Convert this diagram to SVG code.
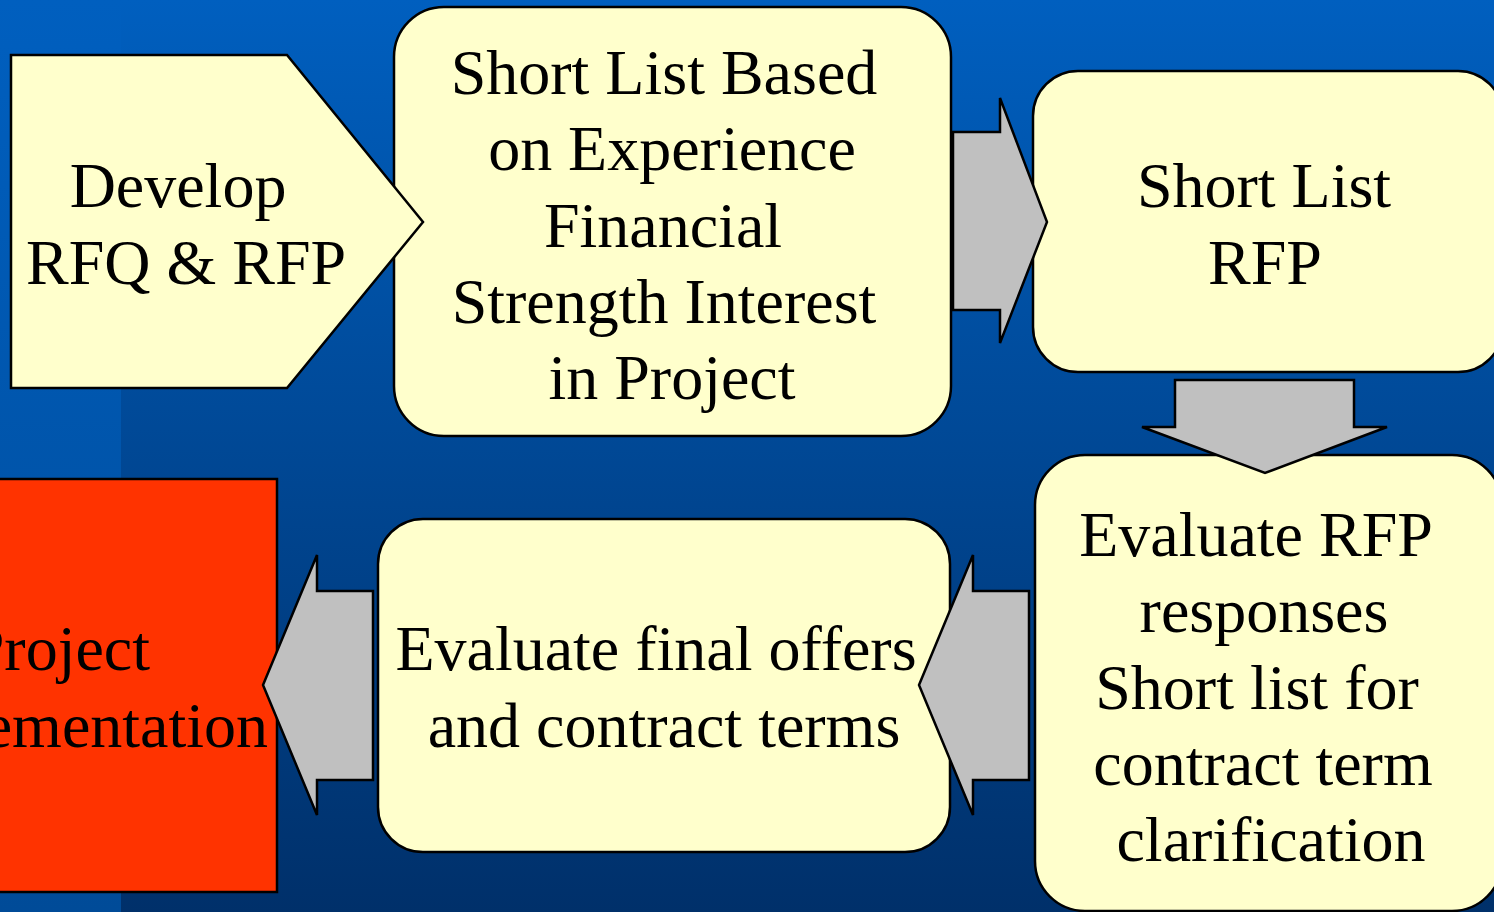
<svg xmlns="http://www.w3.org/2000/svg" width="1494" height="912" viewBox="0 0 1494 912">
  <defs>
    <linearGradient id="bgMain" x1="0" y1="0" x2="0" y2="1">
      <stop offset="0" stop-color="#005FBF"/>
      <stop offset="1" stop-color="#00306A"/>
    </linearGradient>
    <linearGradient id="bgBand" x1="0" y1="0" x2="0" y2="1">
      <stop offset="0" stop-color="#005FBF"/>
      <stop offset="1" stop-color="#004B98"/>
    </linearGradient>
  </defs>
  <style>
    .box { fill: #FFFFCC; stroke: #000; stroke-width: 2.5; }
    .red { fill: #FF3300; stroke: #000; stroke-width: 2.5; }
    .arrow { fill: #C0C0C0; stroke: #000; stroke-width: 2.5; stroke-linejoin: miter; }
    .c { text-anchor: middle; }
    .e { text-anchor: end; }
  </style>

  <!-- background with lighter left band -->
  <rect x="0" y="0" width="1494" height="912" fill="url(#bgMain)"/>
  <rect x="0" y="0" width="121" height="912" fill="url(#bgBand)"/>

  <!-- labels are set at 56 and scaled up to 64 -->
  <g font-family="Liberation Serif" font-size="56" fill="#000">
    <g id="short-list-based">
      <rect class="box" x="394" y="7" width="557" height="429" rx="50" ry="50"/>
      <text class="c" transform="translate(664 94) scale(1.142857)">Short List Based</text>
      <text class="c" transform="translate(672 170) scale(1.142857)">on Experience</text>
      <text class="c" transform="translate(663 247) scale(1.142857)">Financial</text>
      <text class="c" transform="translate(664 323) scale(1.142857)">Strength Interest</text>
      <text class="c" transform="translate(672 399) scale(1.142857)">in Project</text>
    </g>

    <g id="develop">
      <polygon class="box" points="11,55 287,55 423,222 287,388 11,388"/>
      <text class="c" transform="translate(178 207) scale(1.142857)">Develop</text>
      <text class="c" transform="translate(186 284) scale(1.142857)">RFQ &amp; RFP</text>
    </g>

    <g id="short-list-rfp">
      <rect class="box" x="1033" y="71" width="470" height="301" rx="45" ry="45"/>
      <text class="c" transform="translate(1264 207) scale(1.142857)">Short List</text>
      <text class="c" transform="translate(1265 284) scale(1.142857)">RFP</text>
    </g>

    <g id="evaluate-rfp">
      <rect class="box" x="1035" y="455" width="467" height="456" rx="50" ry="50"/>
      <text class="c" transform="translate(1256 556) scale(1.142857)">Evaluate RFP</text>
      <text class="c" transform="translate(1264 632) scale(1.142857)">responses</text>
      <text class="c" transform="translate(1257 709) scale(1.142857)">Short list for</text>
      <text class="c" transform="translate(1263 785) scale(1.142857)">contract term</text>
      <text class="c" transform="translate(1271 861) scale(1.142857)">clarification</text>
    </g>

    <g id="evaluate-final">
      <rect class="box" x="378" y="519" width="572" height="333" rx="45" ry="45"/>
      <text class="c" transform="translate(656 670) scale(1.142857)">Evaluate final offers</text>
      <text class="c" transform="translate(664 747) scale(1.142857)">and contract terms</text>
    </g>

    <g id="implementation">
      <rect class="red" x="-10" y="479" width="287" height="413"/>
      <text class="e" transform="translate(150 670) scale(1.142857)">Project</text>
      <text class="e" transform="translate(268 747) scale(1.142857)">Implementation</text>
    </g>
  </g>

  <g id="connectors">
    <polygon class="arrow" points="953,132 1000,132 1000,98 1047,222 1000,343 1000,310 953,310"/>
    <polygon class="arrow" points="1175,380 1354,380 1354,427 1387,427 1265,473 1142,427 1175,427"/>
    <polygon class="arrow" points="1029,591 973,591 973,555 919,685 973,815 973,780 1029,780"/>
    <polygon class="arrow" points="373,591 317,591 317,555 263,685 317,815 317,780 373,780"/>
  </g>
</svg>
